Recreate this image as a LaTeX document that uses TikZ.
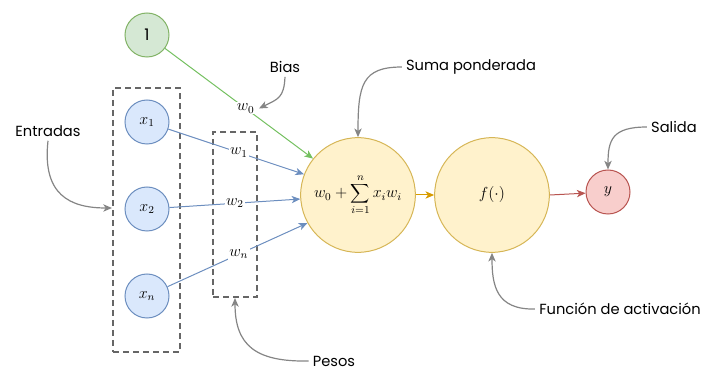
\documentclass[tikz,border=0pt]{standalone}
\usepackage{fontspec}
\setmainfont{Poppins}
\usetikzlibrary{arrows.meta,calc}
\definecolor{gfill}{HTML}{D5E8D4}\definecolor{gline}{HTML}{82B366}
\definecolor{garrow}{HTML}{74C060}
\definecolor{bfill}{HTML}{DAE8FC}\definecolor{bline}{HTML}{6C8EBF}
\definecolor{yfill}{HTML}{FFF2CC}\definecolor{yline}{HTML}{D6B656}
\definecolor{rfill}{HTML}{F8CECC}\definecolor{rline}{HTML}{B85450}
\definecolor{oarrow}{HTML}{D79B00}
\definecolor{dgray}{HTML}{666666}\definecolor{agray}{HTML}{858585}
\tikzset{
  tip/.style={-{Stealth[length=6.5pt,width=5.5pt,inset=1.8pt]}},
  smallc/.style={circle,draw,line width=0.75pt,minimum size=33pt,inner sep=0pt,font=\large},
  bigc/.style={circle,draw=yline,fill=yfill,line width=0.75pt,minimum size=86pt,inner sep=0pt,font=\large},
  dashbox/.style={draw=dgray,line width=1.5pt,dash pattern=on 4.5pt off 3pt,inner sep=0pt},
  edge/.style={tip,line width=0.75pt},
  wlbl/.style={fill=white,text=black,inner sep=1pt,font=\large},
  txt/.style={font=\fontsize{11}{13}\selectfont,inner sep=0pt},
  callout/.style={tip,draw=agray,line width=0.9pt},
}
\begin{document}
\begin{tikzpicture}[x=0.75pt,y=-0.75pt]
\useasboundingbox (0,0) rectangle (708,374);
% dashed groups
\node[dashbox,minimum width=50.25pt,minimum height=198pt] (inputs) at (146.5,220) {};
\node[dashbox,minimum width=33pt,minimum height=123.75pt] (weights) at (235,214.5) {};
% nodes
\node[smallc,draw=gline,fill=gfill] (one) at (147,35) {1};
\node[smallc,draw=bline,fill=bfill] (x1) at (147,122) {$x_1$};
\node[smallc,draw=bline,fill=bfill] (x2) at (147,209) {$x_2$};
\node[smallc,draw=bline,fill=bfill] (xn) at (147,296) {$x_n$};
\node[bigc] (sum) at (358,195) {$w_0+\displaystyle\sum_{i=1}^{n} x_i w_i$};
\node[bigc] (f) at (492,195) {$f(\cdot)$};
\node[smallc,draw=rline,fill=rfill] (y) at (608,192) {$y$};
% edges
\draw[edge,garrow] (one) -- node[wlbl,pos=0.545] (w0) {$w_0$} (sum.141);
\draw[edge,bline] (x1) -- node[wlbl,pos=0.52] (w1) {$w_1$} (sum.159);
\draw[edge,bline] (x2) -- node[wlbl,pos=0.50] (w2) {$w_2$} (sum.184);
\draw[edge,bline] (xn) -- node[wlbl,pos=0.51] (wn) {$w_n$} (sum.209);
\draw[edge,oarrow] (sum) -- (f);
\draw[edge,rline] (f.east) -- (y);
% labels
\node[txt] (bias) at (285,67) {Bias};
\node[txt] (suma) at (471,67) {Suma ponderada};
\node[txt] (salida) at (674,127) {Salida};
\node[txt] (func) at (620,309) {Función de activación};
\node[txt] (entr) at (48,131) {Entradas};
\node[txt] (pesos) at (334,361) {Pesos};
% callouts
\draw[callout] ([yshift=-3pt]bias.south) .. controls (284,98) and (278,99) .. ([xshift=2pt]w0.east);
\draw[callout] ([xshift=-3pt]suma.west) .. controls (362,67) and (358,85) .. (sum.north);
\draw[callout] ([xshift=-3pt]salida.west) .. controls (612,127) and (608,140) .. (y.north);
\draw[callout] ([xshift=-3pt]func.west) .. controls (496,310) and (492,285) .. (f.south);
\draw[callout] ([yshift=-3pt]entr.south) .. controls (42,195) and (70,208) .. ([yshift=9pt]inputs.west);
\draw[callout] ([xshift=-3pt]pesos.west) .. controls (255,362) and (235,345) .. (weights.south);
\end{tikzpicture}
\end{document}
